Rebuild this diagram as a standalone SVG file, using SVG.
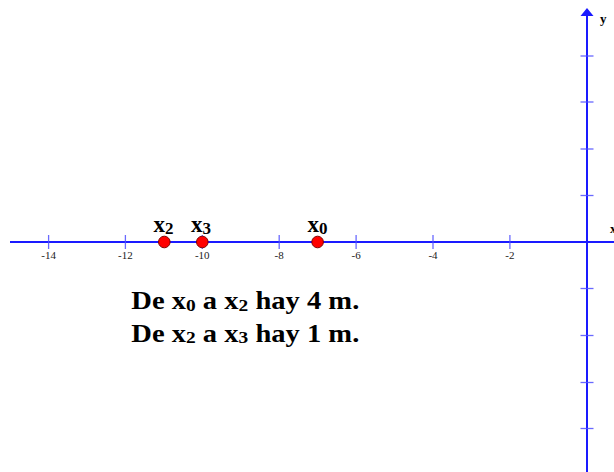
<svg xmlns="http://www.w3.org/2000/svg" width="614" height="472" viewBox="0 0 614 472">
<style>
.axis{stroke:#1a1aff;stroke-width:2;fill:none}
.tick{stroke:#5050ff;stroke-width:1.3;opacity:0.85}
.tl{font-family:"Liberation Serif",serif;font-size:11px;fill:#222;text-anchor:middle}
.pt{fill:#ff0000;stroke:#800000;stroke-width:1}
.lbl{font-family:"Liberation Serif",serif;font-weight:bold;font-size:23px;fill:#000}
.sub{font-size:17px}
.txt{font-family:"Liberation Serif",serif;font-weight:bold;font-size:25px;fill:#000}
.s2{font-size:17px}
</style>
<rect width="614" height="472" fill="#fff"/>
<g id="axes">
<line class="axis" x1="10" y1="242" x2="614" y2="242"/>
<line class="axis" x1="587" y1="14" x2="587" y2="472"/>
<polygon points="587,8 580.5,16 593.5,16" fill="#1a1aff"/>
<g class="tick">
<line x1="48.6" y1="235" x2="48.6" y2="249"/>
<line x1="125.4" y1="235" x2="125.4" y2="249"/>
<line x1="202.3" y1="235" x2="202.3" y2="249"/>
<line x1="279.2" y1="235" x2="279.2" y2="249"/>
<line x1="356.1" y1="235" x2="356.1" y2="249"/>
<line x1="433" y1="235" x2="433" y2="249"/>
<line x1="509.9" y1="235" x2="509.9" y2="249"/>
<line x1="580.5" y1="56" x2="593.5" y2="56"/>
<line x1="580.5" y1="102" x2="593.5" y2="102"/>
<line x1="580.5" y1="149" x2="593.5" y2="149"/>
<line x1="580.5" y1="195.5" x2="593.5" y2="195.5"/>
<line x1="580.5" y1="288.5" x2="593.5" y2="288.5"/>
<line x1="580.5" y1="335.5" x2="593.5" y2="335.5"/>
<line x1="580.5" y1="382.5" x2="593.5" y2="382.5"/>
<line x1="580.5" y1="428.5" x2="593.5" y2="428.5"/>
</g>
<text class="tl" x="48.6" y="259">-14</text>
<text class="tl" x="125.4" y="259">-12</text>
<text class="tl" x="202.3" y="259">-10</text>
<text class="tl" x="279.2" y="259">-8</text>
<text class="tl" x="356.1" y="259">-6</text>
<text class="tl" x="433" y="259">-4</text>
<text class="tl" x="509.9" y="259">-2</text>
<text x="600" y="23" font-family="Liberation Serif,serif" font-weight="bold" font-size="13" fill="#000">y</text>
<text x="610" y="233" font-family="Liberation Serif,serif" font-weight="bold" font-size="13" fill="#000">x</text>
</g>
<g id="point-x2">
<circle class="pt" cx="164.3" cy="242" r="5.8"/>
<text class="lbl" x="153.5" y="232">x<tspan class="sub" dy="1.5">2</tspan></text>
</g>
<g id="point-x3">
<circle class="pt" cx="202.3" cy="242" r="5.8"/>
<text class="lbl" x="191" y="232">x<tspan class="sub" dy="1.5">3</tspan></text>
</g>
<g id="point-x0">
<circle class="pt" cx="317.6" cy="242" r="5.8"/>
<text class="lbl" x="307.5" y="232">x<tspan class="sub" dy="1.5">0</tspan></text>
</g>
<g id="note">
<text class="txt" x="131.3" y="309" textLength="228" lengthAdjust="spacingAndGlyphs">De x<tspan class="s2" dy="1.5">0</tspan><tspan dy="-1.5"> a x</tspan><tspan class="s2" dy="1.5">2</tspan><tspan dy="-1.5"> hay 4 m.</tspan></text>
<text class="txt" x="131.3" y="341.5" textLength="228" lengthAdjust="spacingAndGlyphs">De x<tspan class="s2" dy="1.5">2</tspan><tspan dy="-1.5"> a x</tspan><tspan class="s2" dy="1.5">3</tspan><tspan dy="-1.5"> hay 1 m.</tspan></text>
</g>
</svg>
